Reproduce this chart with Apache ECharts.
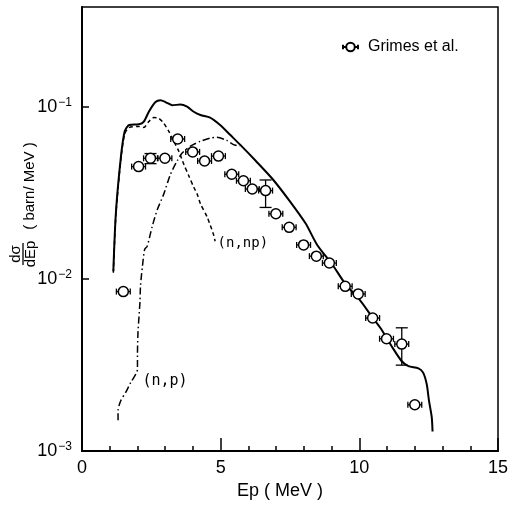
<!DOCTYPE html>
<html>
<head>
<meta charset="utf-8">
<script src="https://cdn.jsdelivr.net/npm/echarts@6/dist/echarts.min.js"></script>
<style>
html,body{margin:0;padding:0;background:#fff;}
#c{width:512px;height:505px;}
</style>
</head>
<body>
<div id="c"></div>
<script>
// ---- data ----
const xTicks = [0, 5, 10, 15];
const yTickExponents = [-3, -2, -1];

// Grimes et al. measured points
const expE   = [1.49, 2.04, 2.47, 2.99, 3.45, 3.99, 4.42, 4.92, 5.40, 5.82, 6.14, 6.62, 6.99, 7.47, 7.99, 8.45, 8.92, 9.49, 9.96, 10.48, 10.98, 11.53, 12.00];
const expVal = [0.00846, 0.0451, 0.0504, 0.0504, 0.0653, 0.0549, 0.0486, 0.0519, 0.0407, 0.0373, 0.0334, 0.0327, 0.0240, 0.0200, 0.0158, 0.0136, 0.0124, 0.00908, 0.0082, 0.00594, 0.0045, 0.00419, 0.00186];
const expEErr = [0.25, 0.25, 0.25, 0.25, 0.25, 0.25, 0.25, 0.25, 0.25, 0.25, 0.25, 0.25, 0.25, 0.25, 0.25, 0.25, 0.25, 0.25, 0.25, 0.25, 0.25, 0.25, 0.25];
// vertical error bars (only some points)
const vErrE  = [2.47, 6.62, 11.53];
const vErrLo = [0.0469, 0.0261, 0.00316];
const vErrHi = [0.0537, 0.0377, 0.00521];

// total (solid)
const totE = [1.13, 1.22, 1.40, 1.54, 1.70, 2.05, 2.23, 2.41, 2.65, 2.83, 3.01, 3.25, 3.55, 3.79, 4.03, 4.27, 4.62, 4.98, 5.34, 5.70, 6.27, 6.87, 7.47, 8.06, 8.48, 9.02, 9.50, 9.98, 10.46, 10.81, 11.17, 11.53, 11.77, 12.13, 12.30, 12.43, 12.51, 12.61, 12.64];
const totV = [0.0111, 0.0240, 0.0508, 0.0723, 0.0787, 0.0794, 0.0824, 0.094, 0.107, 0.1096, 0.107, 0.1026, 0.1035, 0.1005, 0.094, 0.090, 0.0869, 0.0787, 0.069, 0.0605, 0.0486, 0.0382, 0.0287, 0.0211, 0.0158, 0.0122, 0.00935, 0.00769, 0.00603, 0.00506, 0.00406, 0.00333, 0.00312, 0.00303, 0.00286, 0.00245, 0.00197, 0.00158, 0.0013];

// (n,np) dashed
const npE = [1.13, 1.22, 1.40, 1.54, 1.70, 2.05, 2.23, 2.41, 2.59, 2.77, 2.95, 3.13, 3.31, 3.49, 3.67, 3.85, 4.03, 4.15, 4.27, 4.51, 4.74, 4.80];
const npV = [0.0109, 0.0235, 0.0495, 0.0700, 0.0760, 0.0771, 0.0762, 0.0824, 0.0869, 0.0861, 0.0805, 0.0723, 0.0633, 0.0554, 0.0465, 0.0399, 0.0342, 0.0313, 0.0274, 0.0230, 0.0182, 0.0166];

// (n,p) dash-dot
const pE = [1.30, 1.30, 1.40, 1.58, 1.76, 1.94, 2.00, 2.00, 2.02, 2.09, 2.11, 2.18, 2.26, 2.35, 2.53, 2.71, 2.95, 3.19, 3.43, 3.62, 3.91, 4.27, 4.62, 4.86, 5.22, 5.46, 5.70];
const pV = [0.00151, 0.00172, 0.00197, 0.00220, 0.00251, 0.00280, 0.00299, 0.00364, 0.00494, 0.00735, 0.00917, 0.0119, 0.0149, 0.0155, 0.0202, 0.0252, 0.0313, 0.0407, 0.0486, 0.0542, 0.0593, 0.0633, 0.066, 0.0667, 0.0641, 0.0605, 0.0595];

const labelNP = {text: '(n,np)', E: 4.87, v: 0.0161};
const labelP  = {text: '(n,p)',  E: 2.16, v: 0.00255};

// ---- build ----
const zip = (a, b) => a.map((x, i) => [x, b[i]]);
const expData = zip(expE, expVal);
const errData = expE.map((e, i) => {
  const k = vErrE.indexOf(e);
  return [e, expVal[i], expEErr[i], k >= 0 ? vErrLo[k] : 0, k >= 0 ? vErrHi[k] : 0];
});

const chart = echarts.init(document.getElementById('c'));
const FONT = '"Liberation Sans", Arial, Helvetica, sans-serif';

const option = {
  animation: false,
  backgroundColor: '#fff',
  grid: {left: 82, right: 14, top: 7, bottom: 47, show: true, borderColor: '#000', borderWidth: 1.5, backgroundColor: 'transparent'},
  legend: {
    data: ['Grimes et al.'],
    left: 337, top: 34,
    itemWidth: 15, itemHeight: 9,
    icon: 'path://M0,5 L3,5 M0,3 L0,7 M11,5 L14,5 M14,3 L14,7 M11,5 A4,4 0 1 1 3,5 A4,4 0 1 1 11,5 Z',
    textStyle: {fontFamily: FONT, fontSize: 16, color: '#000', padding: [0, 0, 0, 5]}
  },
  xAxis: {
    type: 'value', min: 0, max: 15, interval: 5,
    name: 'Ep ( MeV )', nameLocation: 'middle', nameGap: 28,
    nameTextStyle: {fontFamily: FONT, fontSize: 18, color: '#000', padding: [0, 20, 0, 0]},
    axisLine: {show: true, onZero: false, lineStyle: {color: '#000', width: 2}},
    axisTick: {show: true, inside: true, length: 13, lineStyle: {color: '#000', width: 1.5}},
    minorTick: {show: true, splitNumber: 5, length: 5, lineStyle: {color: '#000', width: 1.5}},
    splitLine: {show: false},
    axisLabel: {fontFamily: FONT, fontSize: 18, color: '#000', margin: 8,
      formatter: v => xTicks.indexOf(v) >= 0 ? String(v) : ''}
  },
  yAxis: {
    type: 'log', logBase: 10, min: 0.001, max: 0.382,
    axisLine: {show: true, onZero: false, lineStyle: {color: '#000', width: 2}},
    axisTick: {show: true, inside: true, length: 7, lineStyle: {color: '#000', width: 1.5}},
    splitLine: {show: false},
    axisLabel: {
      margin: 10, showMaxLabel: false,
      formatter: v => {
        const ex = Math.round(Math.log10(v));
        if (yTickExponents.indexOf(ex) < 0) return '';
        return '{b|10}{s|−' + Math.abs(ex) + '}';
      },
      rich: {
        b: {fontFamily: FONT, fontSize: 18, color: '#000', lineHeight: 20},
        s: {fontFamily: FONT, fontSize: 12, color: '#000', padding: [0, 0, 9, 1]}
      }
    }
  },
  graphic: [{
    type: 'group', x: 23, y: 254, rotation: Math.PI / 2,
    children: [
      {type: 'text', x: 0, y: -7, style: {text: 'dσ', fontFamily: FONT, fontSize: 15, fill: '#000', align: 'center', verticalAlign: 'middle'}},
      {type: 'line', shape: {x1: -11, y1: 0, x2: 11, y2: 0}, style: {stroke: '#000', lineWidth: 1.3}},
      {type: 'text', x: 0, y: 8, style: {text: 'dEp', fontFamily: FONT, fontSize: 15, fill: '#000', align: 'center', verticalAlign: 'middle'}},
      {type: 'text', x: 68, y: 7, style: {text: '( barn/ MeV )', fontFamily: FONT, fontSize: 15, fill: '#000', align: 'center', verticalAlign: 'middle'}}
    ]
  }],
  series: [
    {
      name: 'total', type: 'line', data: zip(totE, totV), showSymbol: false, symbol: 'none',
      smooth: 0.25, lineStyle: {color: '#000', width: 2}, z: 4, silent: true
    },
    {
      name: '(n,np)', type: 'line', data: zip(npE, npV), showSymbol: false, symbol: 'none',
      smooth: 0.25, lineStyle: {color: '#000', width: 1.5, type: [4, 3]}, z: 3, silent: true,
      markPoint: {
        symbol: 'circle', symbolSize: 1, itemStyle: {color: 'transparent'},
        data: [{coord: [labelNP.E, labelNP.v], value: labelNP.text}],
        label: {show: true, position: 'right', distance: 0, formatter: labelNP.text,
          fontFamily: '"DejaVu Sans Mono", monospace', fontSize: 14, color: '#000'}
      }
    },
    {
      name: '(n,p)', type: 'line', data: zip(pE, pV), showSymbol: false, symbol: 'none',
      smooth: 0.25, lineStyle: {color: '#000', width: 1.5, type: [7, 3, 1.5, 3]}, z: 3, silent: true,
      markPoint: {
        symbol: 'circle', symbolSize: 1, itemStyle: {color: 'transparent'},
        data: [{coord: [labelP.E, labelP.v], value: labelP.text}],
        label: {show: true, position: 'right', distance: 0, formatter: labelP.text,
          fontFamily: '"DejaVu Sans Mono", monospace', fontSize: 15, color: '#000'}
      }
    },
    {
      name: 'errors', type: 'custom', data: errData, z: 5, silent: true,
      encode: {x: 0, y: 1},
      renderItem: (params, api) => {
        const x = api.value(0), y = api.value(1), xe = api.value(2), ylo = api.value(3), yhi = api.value(4);
        const pl = api.coord([x - xe, y]), pr = api.coord([x + xe, y]);
        const st = {stroke: '#000', lineWidth: 1.3};
        const ch = [
          {type: 'line', shape: {x1: pl[0], y1: pl[1], x2: pr[0], y2: pr[1]}, style: st},
          {type: 'line', shape: {x1: pl[0], y1: pl[1] - 3, x2: pl[0], y2: pl[1] + 3}, style: st},
          {type: 'line', shape: {x1: pr[0], y1: pr[1] - 3, x2: pr[0], y2: pr[1] + 3}, style: st}
        ];
        if (ylo > 0 && yhi > 0) {
          const lo = api.coord([x, ylo]), hi = api.coord([x, yhi]);
          ch.push({type: 'line', shape: {x1: lo[0], y1: lo[1], x2: hi[0], y2: hi[1]}, style: st});
          ch.push({type: 'line', shape: {x1: lo[0] - 6, y1: lo[1], x2: lo[0] + 6, y2: lo[1]}, style: st});
          ch.push({type: 'line', shape: {x1: hi[0] - 6, y1: hi[1], x2: hi[0] + 6, y2: hi[1]}, style: st});
        }
        return {type: 'group', children: ch};
      }
    },
    {
      name: 'Grimes et al.', type: 'scatter', data: expData, symbol: 'circle', symbolSize: 10, z: 6,
      itemStyle: {color: '#fff', borderColor: '#000', borderWidth: 1.5, opacity: 1}
    }
  ]
};
chart.setOption(option);
</script>
</body>
</html>
